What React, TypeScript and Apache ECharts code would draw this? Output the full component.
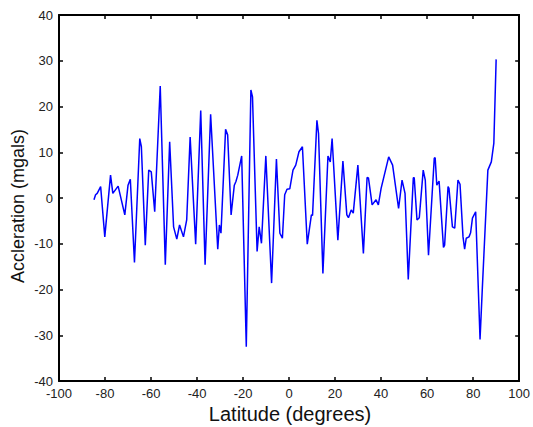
import React, { useEffect, useRef } from "react";
import * as echarts from "echarts";

const latitudes = [
  -84.8, -84.1, -83.4, -81.9, -80.1, -77.6, -76.6, -74.3, -71.4, -70.0, -69.0, -67.2, -64.9, -64.2,
  -62.5, -61.0, -59.9, -58.4, -56.0, -53.8, -51.9, -50.2, -48.8, -47.6, -45.9, -44.5, -43.0, -40.6,
  -38.4, -36.5, -34.1, -31.0, -30.3, -29.6, -27.6, -26.7, -25.2, -23.8, -23.1, -22.3, -20.6, -18.6,
  -16.6, -15.9, -13.9, -13.0, -12.0, -10.1, -7.6, -5.5, -4.0, -2.9, -1.9, -0.9, 0.3, 1.7, 2.9, 4.3,
  5.8, 7.9, 9.7, 10.2, 12.1, 12.8, 14.7, 16.9, 17.9, 18.7, 21.2, 23.4, 25.1, 25.8, 27.0, 27.9, 29.9,
  32.3, 33.9, 34.5, 36.1, 37.8, 38.8, 40.0, 43.3, 45.0, 47.6, 49.1, 50.4, 51.8, 54.0, 54.4, 55.6,
  56.6, 58.3, 59.2, 60.6, 63.1, 63.5, 64.2, 65.2, 67.1, 67.6, 69.1, 69.5, 71.0, 72.0, 73.4, 74.3,
  75.6, 76.3, 77.0, 78.2, 78.9, 79.7, 81.1, 83.0, 84.0, 86.4, 87.9, 89.0, 90.0,
];

const accelerations = [
  -0.4, 0.7, 1.0, 2.5, -8.5, 5.0, 1.0, 2.6, -3.7, 2.8, 4.1, -14.1, 13.0, 11.2,
  -10.3, 6.1, 5.7, -3.0, 24.5, -14.6, 12.3, -6.3, -9.0, -5.9, -8.5, -4.8, 13.3, -10.1,
  19.1, -14.6, 18.3, -11.2, -5.9, -7.7, 15.0, 13.8, -3.7, 2.8, 3.6, 5.0, 9.2, -32.5,
  23.6, 22.1, -11.7, -6.3, -9.9, 9.2, -18.6, 8.5, -7.7, -8.8, 0.7, 1.9, 2.0, 6.1, 7.2, 10.1,
  11.2, -10.1, -3.7, -3.8, 17.0, 14.1, -16.5, 9.2, 7.9, 13.0, -9.2, 8.1, -3.7, -4.3, -2.6, -3.3, 7.2,
  -12.1, 4.5, 4.4, -1.5, -0.4, -1.5, 2.1, 9.0, 7.2, -2.3, 3.9, 1.0, -17.8, 4.4, 4.4, -4.8,
  -4.3, 6.1, 3.9, -12.5, 8.7, 8.8, 2.8, 3.7, -10.8, -10.3, 2.5, 2.1, -6.3, -6.6, 3.9, 3.0,
  -8.5, -11.2, -8.8, -8.5, -7.6, -4.4, -3.0, -30.9, -19.7, 6.1, 7.9, 12.0, 30.3,
];

const xTitle = "Latitude (degrees)";
const yTitle = "Accleration (mgals)";

const FONT = "'Liberation Sans', Arial, sans-serif";

export default function App() {
  const ref = useRef<HTMLDivElement>(null);
  useEffect(() => {
    document.body.style.margin = "0";
    const chart = echarts.init(ref.current!, null, { renderer: "svg" });
    const data = latitudes.map((x, i) => [x, accelerations[i]]);
    const axisLine = { show: true, onZero: false, lineStyle: { color: "#000", width: 2 } };
    const tick = { show: true, inside: true, length: 4, lineStyle: { color: "#000", width: 1.5 } };
    chart.setOption({
      animation: false,
      backgroundColor: "#fff",
      grid: { left: 59, right: 10, top: 15, bottom: 46, containLabel: false },
      xAxis: [
        {
          type: "value", min: -100, max: 100, interval: 20, position: "bottom",
          axisLine, axisTick: tick, splitLine: { show: false },
          axisLabel: { color: "#222", fontSize: 13, fontFamily: FONT, margin: 6 },
        },
        {
          type: "value", min: -100, max: 100, interval: 20, position: "top",
          axisLine, axisTick: tick, splitLine: { show: false }, axisLabel: { show: false },
        },
      ],
      yAxis: [
        {
          type: "value", min: -40, max: 40, interval: 10, position: "left",
          axisLine, axisTick: tick, splitLine: { show: false },
          axisLabel: { color: "#222", fontSize: 13, fontFamily: FONT, margin: 6 },
        },
        {
          type: "value", min: -40, max: 40, interval: 10, position: "right",
          axisLine, axisTick: tick, splitLine: { show: false }, axisLabel: { show: false },
        },
      ],
      graphic: [
        {
          type: "text", x: 290, y: 414,
          style: { text: xTitle, fontSize: 20, fontFamily: FONT, fill: "#111", align: "center", verticalAlign: "middle" },
        },
        {
          type: "text", x: 18, y: 206, rotation: Math.PI / 2,
          style: { text: yTitle, fontSize: 18, fontFamily: FONT, fill: "#111", align: "center", verticalAlign: "middle" },
        },
      ],
      series: [
        {
          type: "line", data, showSymbol: false, symbol: "none",
          lineStyle: { color: "#0000ff", width: 1.5 },
        },
      ],
    });
    return () => chart.dispose();
  }, []);
  return <div ref={ref} style={{ width: 533, height: 427 }} />;
}
